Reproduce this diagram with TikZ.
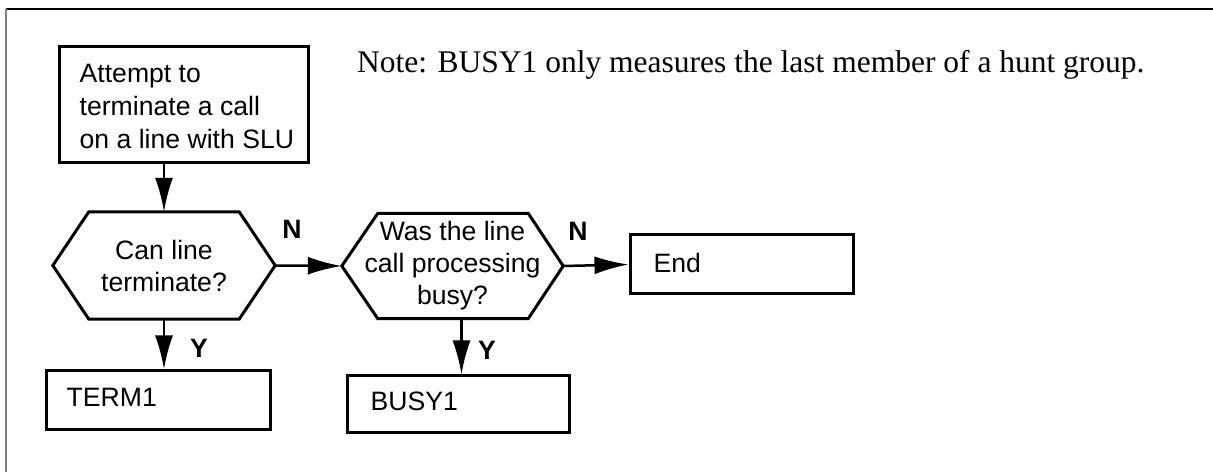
\documentclass[tikz,border=0pt]{standalone}
\usepackage{fontspec}
\setmainfont{Liberation Sans}
\newfontfamily\notefont{Liberation Serif}
\usetikzlibrary{arrows.meta,calc}
\tikzset{
  box/.style={draw, line width=3bp, inner sep=0pt},
  boxtext/.style={anchor=west, inner sep=0pt, align=left,
    font=\fontsize{26.6bp}{33bp}\selectfont},
  hexnode/.style={inner sep=0pt, align=center, font=\fontsize{26.6bp}{32bp}\selectfont},
  hexline/.style={line width=3bp, line join=miter},
  arr/.style={line width=2.5bp, -{Latex[length=34bp,width=18bp]}},
  lbl/.style={font=\bfseries\fontsize{26.6bp}{30bp}\selectfont, inner sep=0pt},
}
\begin{document}
\begin{tikzpicture}[x=1bp,y=-1bp]
\useasboundingbox (0,0) rectangle (1213,472);
% frame
\coordinate (tl) at (6,9);
\coordinate (tr) at (1213,9);
\coordinate (bl) at (6,472);
\draw[line width=1.5bp] (tl) -- (tr);
\draw[line width=2bp, gray] (tl) -- (bl);
% boxes
\node[box, minimum width=248bp, minimum height=116bp] (start) at (184,105) {};
\node[boxtext] (starttext) at ([xshift=21bp,yshift=-1bp]start.west) {Attempt to\\terminate a call\\on a line with SLU};
\node[box, minimum width=223bp, minimum height=59bp] (term) at (158.5,400.5) {};
\node[boxtext] (termtext) at ([xshift=21bp,yshift=3bp]term.west) {TERM1};
\node[box, minimum width=222bp, minimum height=57bp] (busy) at (458,404.5) {};
\node[boxtext] (busytext) at ([xshift=25bp,yshift=3bp]busy.west) {BUSY1};
\node[box, minimum width=223bp, minimum height=59bp] (end) at (741.5,264.5) {};
\node[boxtext] (endtext) at ([xshift=25bp,yshift=2bp]end.west) {End};
% hexagons
\node[hexnode, minimum width=222bp, minimum height=107bp] (hexa) at (164,265.5) {Can line\\terminate?};
\node[hexnode, minimum width=221bp, minimum height=105bp] (hexb) at (452.5,266) {Was the line\\call processing\\busy?};
\draw[hexline] (hexa.west) -- ($(hexa.north west)+(36,0)$) -- ($(hexa.north east)+(-36,0)$) -- (hexa.east) -- ($(hexa.south east)+(-36,0)$) -- ($(hexa.south west)+(36,0)$) -- cycle;
\draw[hexline] (hexb.west) -- ($(hexb.north west)+(36,0)$) -- ($(hexb.north east)+(-35,0)$) -- (hexb.east) -- ($(hexb.south east)+(-35,0)$) -- ($(hexb.south west)+(36,0)$) -- cycle;
% connectors
\draw[arr] (start.south -| hexa.north) -- (hexa.north);
\draw[arr] (hexa.south) -- (hexa.south |- term.north);
\draw[arr] (hexa.east) -- (hexb.west);
\draw[arr] (hexb.east) -- (end.west);
\draw[arr] ([xshift=9bp]hexb.south) -- ([xshift=9bp]hexb.south |- busy.north);
% labels
\node[lbl] (n1) at (292,229) {N};
\node[lbl] (y1) at (199,348) {Y};
\node[lbl] (n2) at (578,231) {N};
\node[lbl] (y2) at (487,350) {Y};
% note
\node[anchor=base west, inner sep=0pt, font=\notefont\fontsize{31.5bp}{36bp}\selectfont] (note) at (357,73) {Note: BUSY1 only measures the last member of a hunt group.};
\end{tikzpicture}
\end{document}
